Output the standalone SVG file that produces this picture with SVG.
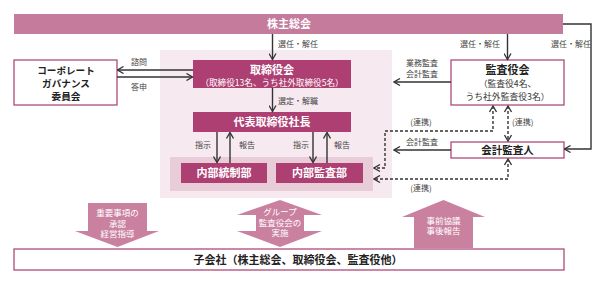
<svg xmlns="http://www.w3.org/2000/svg" width="605" height="284" viewBox="0 0 605 284">
<style>
text{font-family:"Noto Sans CJK JP","Noto Sans",sans-serif;}
.t{fill:#fff;font-weight:bold;font-size:11px;text-anchor:middle;}
.ts{fill:#fff;font-size:8.6px;text-anchor:middle;}
.d{fill:#222;font-weight:bold;font-size:10px;text-anchor:middle;}
.dr{fill:#333;font-size:8.8px;text-anchor:middle;}
.lb{fill:#444;font-size:8px;}
.c{text-anchor:middle;}
.ba{fill:#c9819f;}
.bt{fill:#fff;font-size:8.5px;text-anchor:middle;}
.dark{fill:#ae3f73;}
.wb{fill:#fff;stroke:#b04a7a;stroke-width:1.3;}
.ln{fill:none;stroke:#333;stroke-width:1.4;marker-end:url(#ah);}
.dl{fill:none;stroke:#333;stroke-width:1.4;stroke-dasharray:3 2;marker-end:url(#ah);marker-start:url(#ah);}
</style>
<defs>
<marker id="ah" viewBox="0 0 8 8" refX="7" refY="4" markerWidth="8" markerHeight="8" markerUnits="userSpaceOnUse" orient="auto-start-reverse">
<path d="M1,0.5 L7,4 L1,7.5" fill="none" stroke="#333" stroke-width="1.3"/>
</marker>
</defs>
<rect width="605" height="284" fill="#fff"/>
<g id="panel">
<rect x="160" y="50" width="232" height="148" fill="#f6eaf0"/>
<rect x="170" y="157" width="203" height="34" fill="#e8cdd9"/>
</g>
<g id="shareholders">
<rect x="14" y="14" width="549" height="20" fill="#c57b9c"/>
<text class="t" x="289" y="28">株主総会</text>
</g>
<g id="board">
<rect class="dark" x="193" y="60" width="158" height="28"/>
<text class="t" x="272" y="74">取締役会</text>
<text class="ts" x="272" y="86">（取締役13名、うち社外取締役5名）</text>
</g>
<g id="president">
<rect class="dark" x="193" y="112" width="158" height="20"/>
<text class="t" x="272" y="126">代表取締役社長</text>
</g>
<g id="internal-control">
<rect class="dark" x="181" y="163" width="86" height="20"/>
<text class="t" x="224" y="177">内部統制部</text>
</g>
<g id="internal-audit">
<rect class="dark" x="276" y="163" width="87" height="20"/>
<text class="t" x="319.5" y="177">内部監査部</text>
</g>
<g id="cg-committee">
<rect class="wb" x="14" y="60" width="103" height="45"/>
<text class="d" x="66" y="73.5" style="font-size:9.6px">コーポレート</text>
<text class="d" x="66" y="86.5" style="font-size:9.6px">ガバナンス</text>
<text class="d" x="66" y="99.5" style="font-size:9.6px">委員会</text>
</g>
<g id="auditors-board">
<rect class="wb" x="451" y="60" width="113" height="45"/>
<text class="d" x="507.5" y="74" style="font-size:11px">監査役会</text>
<text class="dr" x="507.5" y="87">（監査役4名、</text>
<text class="dr" x="507.5" y="99.5">うち社外監査役3名）</text>
</g>
<g id="accounting-auditor">
<rect class="wb" x="451" y="142" width="113" height="16"/>
<text class="d" x="507.5" y="154" style="font-size:10.5px">会計監査人</text>
</g>
<g id="subsidiaries">
<rect class="wb" x="14" y="249" width="550" height="21"/>
<text class="d" x="298" y="263.5" style="font-size:11px">子会社（株主総会、取締役会、監査役他）</text>
</g>
<g id="block-arrows">
<polygon class="ba" points="88,203 147,203 147,231 159,231 117.5,247 75,231 88,231"/>
<text class="bt" x="117.5" y="216">重要事項の</text>
<text class="bt" x="117.5" y="226.5">承認</text>
<text class="bt" x="117.5" y="237">経営指導</text>
<polygon class="ba" points="280,200 322,215 304,215 304,231 322,231 280,247 237,231 256,231 256,215 237,215"/>
<text class="bt" x="280" y="215">グループ</text>
<text class="bt" x="280" y="225.5">監査役会の</text>
<text class="bt" x="280" y="236">実施</text>
<polygon class="ba" points="443.5,200 485,217 473,217 473,248 414,248 414,217 402,217"/>
<text class="bt" x="443.5" y="223.5">事前協議</text>
<text class="bt" x="443.5" y="234">事後報告</text>
</g>
<g id="connectors">
<path class="ln" d="M272.5,34 V59.5"/>
<path class="ln" d="M272.5,88 V111.5"/>
<path class="ln" d="M217,132 V162.5"/>
<path class="ln" d="M230,163 V132.5"/>
<path class="ln" d="M313,132 V162.5"/>
<path class="ln" d="M327,163 V132.5"/>
<path class="ln" d="M193,70 H117.5"/>
<path class="ln" d="M117,77 H192.5"/>
<path class="ln" d="M507.5,34 V59.5"/>
<path class="ln" d="M563,24 H591 V149 H564.5"/>
<path class="ln" d="M451,82 H394"/>
<path class="ln" d="M451,150 H394"/>
<path class="dl" d="M493,106 V131 H385 V168 H374"/>
<path class="dl" d="M508,106 V141"/>
<path class="dl" d="M508,159 V179 H374"/>
</g>
<g id="labels">
<text class="lb" x="278" y="47">選任・解任</text>
<text class="lb" x="278" y="104">選定・解職</text>
<text class="lb c" x="203" y="148">指示</text>
<text class="lb c" x="247" y="148">報告</text>
<text class="lb c" x="301" y="148">指示</text>
<text class="lb c" x="342" y="148">報告</text>
<text class="lb c" x="139" y="65">諮問</text>
<text class="lb c" x="139" y="90">答申</text>
<text class="lb" x="500" y="47" text-anchor="end">選任・解任</text>
<text class="lb c" x="571" y="47">選任・解任</text>
<text class="lb c" x="422" y="66">業務監査</text>
<text class="lb c" x="422" y="77">会計監査</text>
<text class="lb c" x="422" y="145">会計監査</text>
<text class="lb c" x="421" y="125">(連携)</text>
<text class="lb" x="512" y="125">(連携)</text>
<text class="lb c" x="421" y="191">(連携)</text>
</g>
</svg>
